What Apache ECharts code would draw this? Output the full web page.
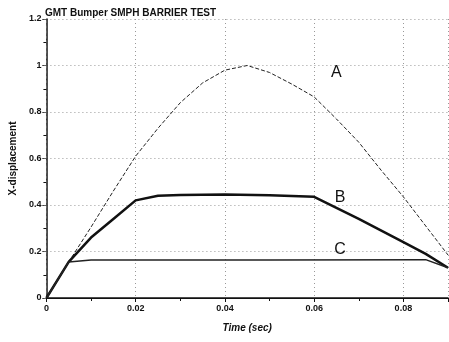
<!DOCTYPE html>
<html>
<head>
<meta charset="utf-8">
<script src="https://cdn.jsdelivr.net/npm/echarts@6/dist/echarts.min.js"></script>
<style>
  html, body { margin: 0; padding: 0; background: #fff; }
  #chart { width: 449px; height: 342px; }
</style>
</head>
<body>
<div id="chart"></div>
<script>
// time values (sec) and X-displacement for each curve
const timeA = [0, 0.005, 0.01, 0.015, 0.02, 0.025, 0.03, 0.035, 0.04, 0.045, 0.05, 0.055, 0.06, 0.065, 0.07, 0.075, 0.08, 0.085, 0.09];
const dispA = [0, 0.155, 0.305, 0.46, 0.61, 0.73, 0.84, 0.925, 0.98, 1.0, 0.97, 0.92, 0.865, 0.77, 0.67, 0.55, 0.435, 0.31, 0.185];

const timeB = [0, 0.005, 0.01, 0.015, 0.02, 0.025, 0.03, 0.04, 0.05, 0.06, 0.07, 0.08, 0.085, 0.09];
const dispB = [0, 0.155, 0.26, 0.34, 0.42, 0.44, 0.443, 0.445, 0.442, 0.435, 0.34, 0.24, 0.19, 0.13];

const timeC = [0, 0.005, 0.01, 0.05, 0.085, 0.09];
const dispC = [0, 0.155, 0.163, 0.163, 0.165, 0.13];

// curve name labels, placed in data coordinates
const curveLabels = [
  { name: "A", at: [0.065, 0.97] },
  { name: "B", at: [0.0658, 0.43] },
  { name: "C", at: [0.0658, 0.21] },
];

const xTicks = [0, 0.02, 0.04, 0.06, 0.08];
const yTicks = [0, 0.2, 0.4, 0.6, 0.8, 1, 1.2];

const pairs = (xs, ys) => xs.map((x, i) => [x, ys[i]]);

const chart = echarts.init(document.getElementById("chart"));

const FONT = "Liberation Sans, Arial, sans-serif";
const tickFont = { fontFamily: FONT, fontSize: 9, fontWeight: "bold", color: "#111" };
const gridLine = { show: true, lineStyle: { color: "#999", type: [1, 3], width: 1 } };

const nameLabel = (name) => ({
  show: true,
  formatter: "{b}",
  fontFamily: FONT,
  fontSize: 16,
  color: "#111",
});

const option = {
  backgroundColor: "#fff",
  animation: false,
  title: {
    text: "GMT Bumper SMPH BARRIER TEST",
    left: 40,
    top: 3,
    textStyle: { fontFamily: FONT, fontSize: 10, fontWeight: "bold", color: "#111" },
  },
  grid: { left: 42, right: 1, top: 19, bottom: 44 },
  xAxis: [
    {
      type: "value",
      min: 0,
      max: 0.09,
      interval: 0.02,
      name: "Time (sec)",
      nameLocation: "middle",
      nameGap: 25,
      nameTextStyle: { fontFamily: FONT, fontSize: 10, fontWeight: "bold", fontStyle: "italic", color: "#111" },
      axisLine: { show: true, onZero: false, lineStyle: { color: "#111", width: 1.5 } },
      axisTick: { show: true, length: 4, lineStyle: { color: "#111" } },
      minorTick: { show: true, splitNumber: 2, length: 3, lineStyle: { color: "#111" } },
      axisLabel: {
        ...tickFont,
        margin: 6,
        showMaxLabel: false,
        formatter: (v) => (xTicks.some((t) => Math.abs(t - v) < 1e-9) ? String(+v.toFixed(2)) : ""),
      },
      splitLine: gridLine,
    },
    {
      type: "value",
      position: "top",
      min: 0,
      max: 0.09,
      axisLine: { show: true, lineStyle: { color: "#111", width: 1 } },
      axisTick: { show: false },
      axisLabel: { show: false },
      splitLine: { show: false },
    },
  ],
  yAxis: [
    {
      type: "value",
      min: 0,
      max: 1.2,
      interval: 0.2,
      name: "X-displacement",
      nameLocation: "middle",
      nameGap: 28,
      nameTextStyle: { fontFamily: FONT, fontSize: 10, fontWeight: "bold", color: "#111" },
      axisLine: { show: true, onZero: false, lineStyle: { color: "#111", width: 1.5 } },
      axisTick: { show: true, length: 4, lineStyle: { color: "#111" } },
      minorTick: { show: true, splitNumber: 2, length: 3, lineStyle: { color: "#111" } },
      axisLabel: {
        ...tickFont,
        margin: 5,
        formatter: (v) => (yTicks.some((t) => Math.abs(t - v) < 1e-9) ? String(+v.toFixed(1)) : ""),
      },
      splitLine: gridLine,
    },
    {
      type: "value",
      position: "right",
      min: 0,
      max: 1.2,
      interval: 0.2,
      axisLine: { show: true, lineStyle: { color: "#666", type: [2, 3], width: 1 } },
      axisTick: { show: true, inside: true, length: 3, lineStyle: { color: "#666" } },
      axisLabel: { show: false },
      splitLine: { show: false },
    },
  ],
  series: [
    {
      name: "A",
      type: "line",
      data: pairs(timeA, dispA),
      showSymbol: false,
      lineStyle: { color: "#222", width: 1, type: [4, 2] },
      markPoint: {
        symbol: "circle",
        symbolSize: 0,
        label: nameLabel(),
        data: [{ name: curveLabels[0].name, coord: curveLabels[0].at }],
      },
    },
    {
      name: "B",
      type: "line",
      data: pairs(timeB, dispB),
      showSymbol: false,
      lineStyle: { color: "#111", width: 2.5 },
      markPoint: {
        symbol: "circle",
        symbolSize: 0,
        label: nameLabel(),
        data: [{ name: curveLabels[1].name, coord: curveLabels[1].at }],
      },
    },
    {
      name: "C",
      type: "line",
      data: pairs(timeC, dispC),
      showSymbol: false,
      lineStyle: { color: "#222", width: 1.5 },
      markPoint: {
        symbol: "circle",
        symbolSize: 0,
        label: nameLabel(),
        data: [{ name: curveLabels[2].name, coord: curveLabels[2].at }],
      },
    },
  ],
};

chart.setOption(option);
</script>
</body>
</html>
